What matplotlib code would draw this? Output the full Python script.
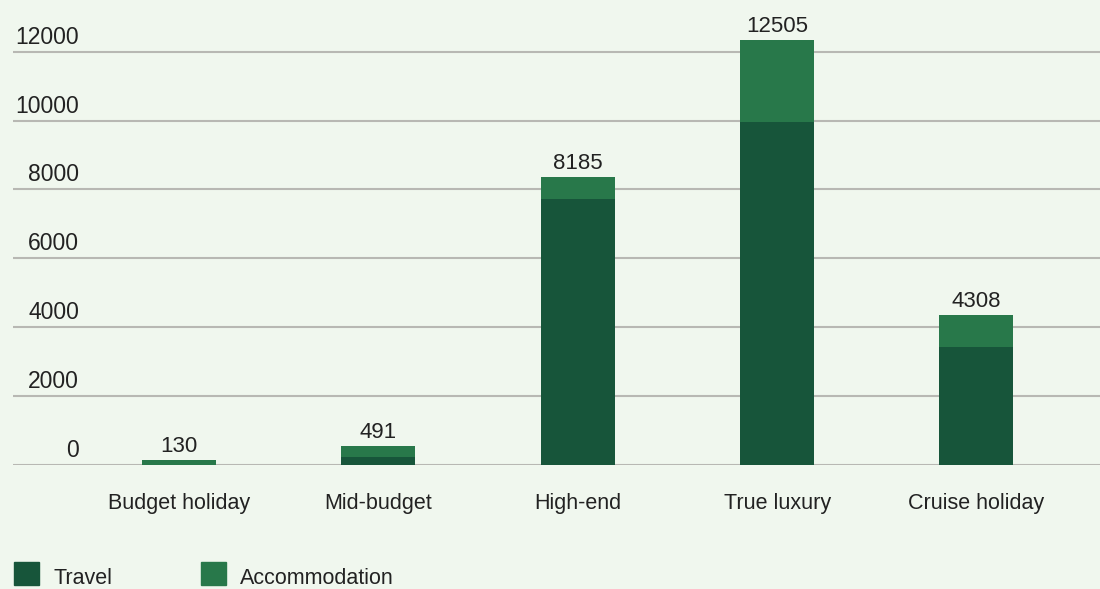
import numpy as np
import matplotlib.pyplot as plt
from matplotlib.patches import Rectangle
from matplotlib.transforms import offset_copy

# data
categories = ["Budget holiday", "Mid-budget", "High-end", "True luxury", "Cruise holiday"]
travel = [0, 224, 7717, 9954, 3418]
accommodation = [136, 319, 639, 2381, 930]
total_labels = ["130", "491", "8185", "12505", "4308"]
yticks = [0, 2000, 4000, 6000, 8000, 10000, 12000]

bg = "#f0f7ee"
dark = "#17553a"
light = "#28784a"
txt = "#222222"

plt.rcParams['font.family'] = ['Liberation Sans', 'DejaVu Sans']

W, H = 1100, 589
fig = plt.figure(figsize=(W / 100, H / 100), dpi=100, facecolor=bg)
ax = fig.add_axes([13 / W, (H - 465) / H, 1087 / W, 465 / H], facecolor=bg)

x = np.arange(len(categories))
ax.bar(x, travel, width=0.372, color=dark, zorder=3)
ax.bar(x, accommodation, bottom=travel, width=0.372, color=light, zorder=3)

ax.set_xlim(-0.833, 4.62)
ax.set_ylim(0, 13500)

for s in ax.spines.values():
    s.set_visible(False)
ax.set_xticks([])
ax.set_yticks([])

# grid lines with labels sitting above them
for t in yticks:
    ax.axhline(t, color="#b8b8b3", lw=1.5, zorder=1)
    tr = offset_copy(ax.get_yaxis_transform(), fig=fig, y=8, units='dots')
    ax.text(66 / 1087, t, str(t), transform=tr, ha='right', va='baseline',
            fontsize=16.5, color=txt)

# totals on top of bars
for i in range(len(categories)):
    top = travel[i] + accommodation[i]
    tr = offset_copy(ax.transData, fig=fig, y=8, units='dots')
    ax.text(x[i], top, total_labels[i], transform=tr, ha='center', va='baseline',
            fontsize=16, color=txt, clip_on=False)

# category labels
for i, c in enumerate(categories):
    tr = offset_copy(ax.get_xaxis_transform(), fig=fig, y=-44, units='dots')
    ax.text(x[i], 0, c, transform=tr, ha='center', va='baseline',
            fontsize=15.5, color=txt)

# legend drawn by hand
legend_items = [("Travel", dark, 14), ("Accommodation", light, 201)]
for name, col, px in legend_items:
    fig.add_artist(Rectangle((px / W, (H - 585) / H), 25 / W, 23 / H,
                             transform=fig.transFigure, color=col))
    fig.text((px + 39) / W, (H - 584) / H, name, ha='left', va='baseline',
             fontsize=15.5, color=txt)

fig.savefig("out.png", dpi=100, facecolor=bg)
